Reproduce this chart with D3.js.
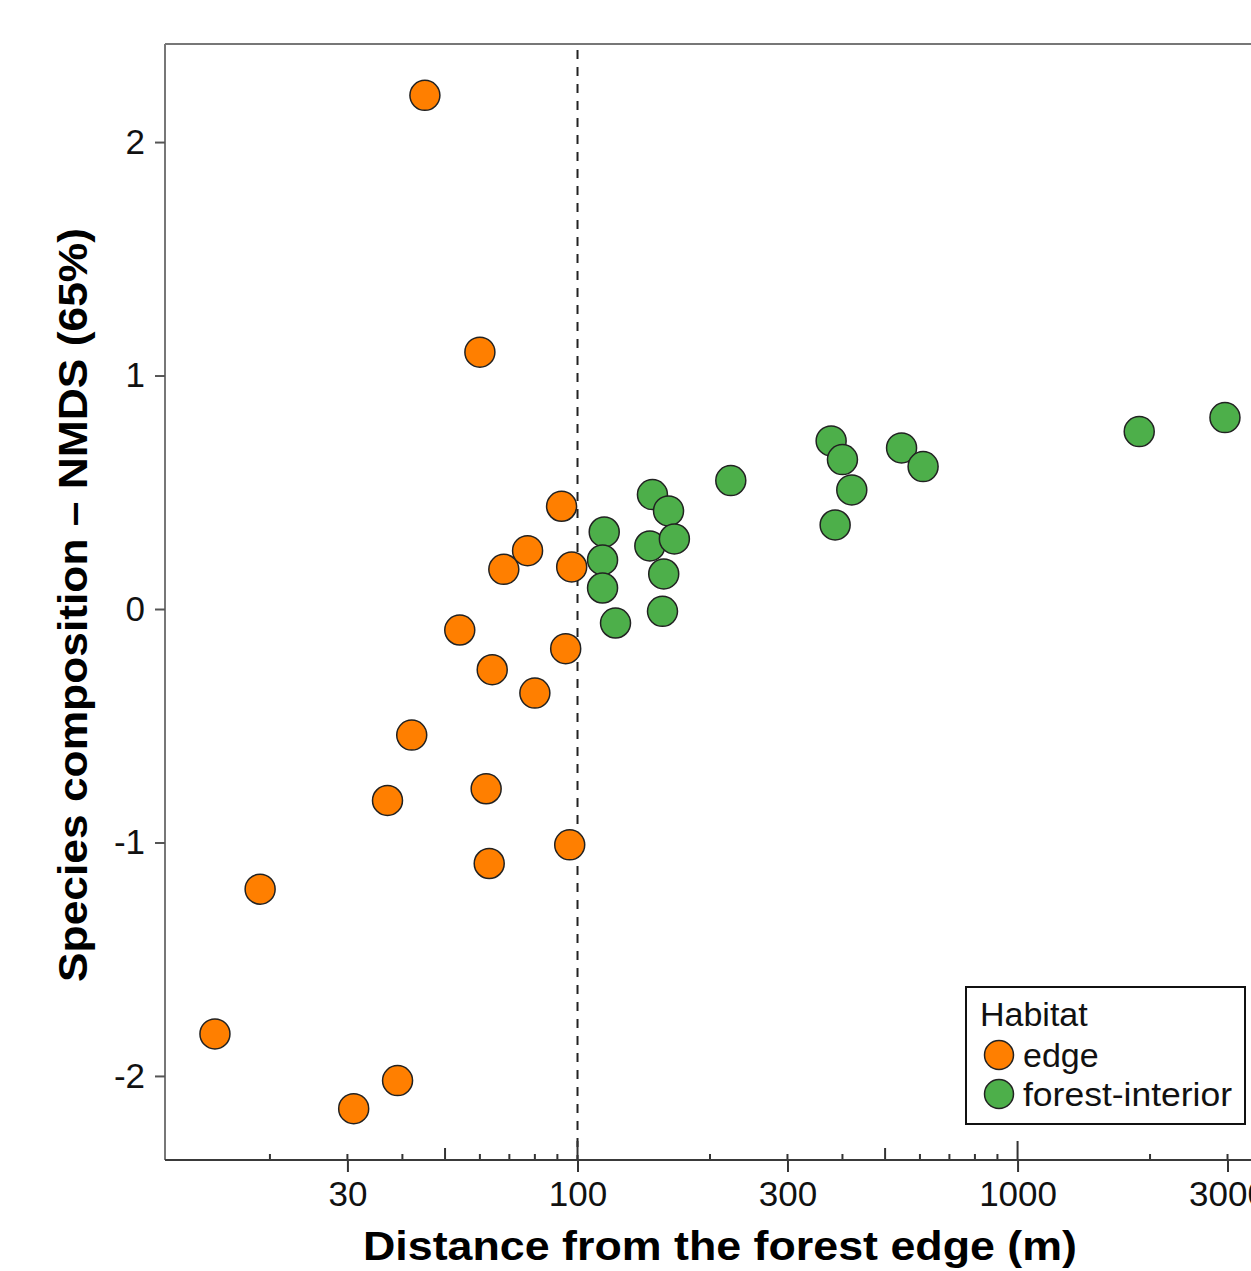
<!DOCTYPE html>
<html>
<head>
<meta charset="utf-8">
<script src="https://cdn.jsdelivr.net/npm/d3@7"></script>
<style>
  body { margin: 0; background: #fff; }
  svg { display: block; font-family: "Liberation Sans", Arial, sans-serif; }
</style>
</head>
<body>
<div class="chart"></div>
<script>
// distance from edge (m) and NMDS score, per habitat
var edgeDistance = [45, 60, 92, 77, 68, 97, 54, 94, 64, 80, 42, 37, 62, 96, 63, 19, 15, 31, 39];
var edgeNMDS = [2.20, 1.10, 0.44, 0.25, 0.17, 0.18, -0.09, -0.17, -0.26, -0.36, -0.54, -0.82, -0.77, -1.01, -1.09, -1.20, -1.82, -2.14, -2.02];
var interiorDistance = [115, 114, 114, 122, 148, 161, 146, 166, 157, 156, 223, 377, 400, 420, 385, 545, 610, 1890, 2960];
var interiorNMDS = [0.33, 0.21, 0.09, -0.06, 0.49, 0.42, 0.27, 0.30, 0.15, -0.01, 0.55, 0.72, 0.64, 0.51, 0.36, 0.69, 0.61, 0.76, 0.82];
var habitats = ["edge", "forest-interior"];
var habitatColors = ["#ff7f00", "#4daf4a"];
var xTickLabels = [30, 100, 300, 1000, 3000];
var yTicks = [-2, -1, 0, 1, 2];
var edgeThreshold = 100;

var width = 1251, height = 1271;
var plot = {left: 165, right: 1290, top: 44, bottom: 1160};

var svg = d3.select(".chart").append("svg")
  .attr("width", width)
  .attr("height", height);

var x = d3.scaleLog().domain([11.55, 4160]).range([plot.left, plot.right]);
var y = d3.scaleLinear().domain([-2.36, 2.42]).range([plot.bottom, plot.top]);

var points = [];
edgeDistance.forEach(function(d, i) { points.push({x: d, y: edgeNMDS[i], h: 0}); });
interiorDistance.forEach(function(d, i) { points.push({x: d, y: interiorNMDS[i], h: 1}); });

// frame (top + left in grey)
svg.append("line")
  .attr("x1", plot.left).attr("x2", plot.right)
  .attr("y1", plot.top).attr("y2", plot.top)
  .attr("stroke", "#777").attr("stroke-width", 2);
svg.append("line")
  .attr("x1", plot.left).attr("x2", plot.left)
  .attr("y1", plot.top).attr("y2", plot.bottom)
  .attr("stroke", "#777").attr("stroke-width", 2);

// dashed line at 100 m
svg.append("line")
  .attr("x1", x(edgeThreshold)).attr("x2", x(edgeThreshold))
  .attr("y1", plot.top + 6).attr("y2", plot.bottom)
  .attr("stroke", "#222").attr("stroke-width", 2)
  .attr("stroke-dasharray", "9 8");

// X axis labels + crossing ticks
var xAxis = d3.axisBottom(x)
  .tickValues(xTickLabels)
  .tickFormat(d3.format("d"))
  .tickSizeInner(12)
  .tickSizeOuter(0)
  .tickPadding(9);

var gx = svg.append("g")
  .attr("transform", "translate(0," + plot.bottom + ")")
  .call(xAxis);
gx.select(".domain").remove();
gx.selectAll(".tick line").attr("stroke", "#333").attr("stroke-width", 2);
gx.selectAll("text")
  .attr("fill", "#111")
  .style("font-size", "35px")
  .style("font-family", "Liberation Sans, Arial, sans-serif");

// upward ticks on the log axis
gx.selectAll(".up-tick")
  .data(x.ticks())
  .enter().append("line")
  .attr("class", "up-tick")
  .attr("x1", d => x(d)).attr("x2", d => x(d))
  .attr("y1", 0)
  .attr("y2", function(d) {
    var lead = Math.round(d / Math.pow(10, Math.floor(Math.log10(d) + 1e-9)));
    if (lead === 1) return -19;
    if (lead === 5) return -12;
    return -6;
  })
  .attr("stroke", "#333").attr("stroke-width", 2);

svg.append("line")
  .attr("x1", plot.left).attr("x2", plot.right)
  .attr("y1", plot.bottom).attr("y2", plot.bottom)
  .attr("stroke", "#3a3a3a").attr("stroke-width", 2);

// Y axis
var yAxis = d3.axisLeft(y)
  .tickValues(yTicks)
  .tickFormat(d => String(d))
  .tickSizeInner(10)
  .tickSizeOuter(0)
  .tickPadding(10);

var gy = svg.append("g")
  .attr("transform", "translate(" + plot.left + ",0)")
  .call(yAxis);
gy.select(".domain").remove();
gy.selectAll(".tick line").attr("stroke", "#555").attr("stroke-width", 2);
gy.selectAll("text")
  .attr("fill", "#111")
  .style("font-size", "35px")
  .style("font-family", "Liberation Sans, Arial, sans-serif");

// points
svg.append("g")
  .selectAll("circle")
  .data(points)
  .enter().append("circle")
  .attr("cx", d => x(d.x))
  .attr("cy", d => y(d.y))
  .attr("r", 15)
  .attr("fill", d => habitatColors[d.h])
  .attr("stroke", "#222")
  .attr("stroke-width", 1.5);

// axis titles
svg.append("text")
  .attr("x", 720).attr("y", 1260)
  .attr("text-anchor", "middle")
  .attr("textLength", 714)
  .attr("lengthAdjust", "spacingAndGlyphs")
  .style("font-size", "41px")
  .style("font-weight", "bold")
  .attr("fill", "#000")
  .text("Distance from the forest edge (m)");

svg.append("text")
  .attr("transform", "translate(87,605) rotate(-90)")
  .attr("text-anchor", "middle")
  .attr("textLength", 754)
  .attr("lengthAdjust", "spacingAndGlyphs")
  .style("font-size", "41px")
  .style("font-weight", "bold")
  .attr("fill", "#000")
  .text("Species composition \u2013 NMDS (65%)");

// legend
var legend = svg.append("g").attr("transform", "translate(966,987)");
legend.append("rect")
  .attr("width", 279).attr("height", 137)
  .attr("fill", "#fff")
  .attr("stroke", "#111").attr("stroke-width", 2);
legend.append("text")
  .attr("x", 14).attr("y", 39)
  .style("font-size", "34px")
  .attr("fill", "#111")
  .text("Habitat");

var items = legend.selectAll(".item")
  .data(habitats)
  .enter().append("g")
  .attr("class", "item")
  .attr("transform", (d, i) => "translate(0," + (68 + i * 39) + ")");
items.append("circle")
  .attr("cx", 33).attr("cy", 0).attr("r", 14.5)
  .attr("fill", (d, i) => habitatColors[i])
  .attr("stroke", "#222").attr("stroke-width", 1.5);
items.append("text")
  .attr("x", 57).attr("y", 12)
  .attr("textLength", (d, i) => i === 1 ? 209 : null)
  .attr("lengthAdjust", "spacingAndGlyphs")
  .style("font-size", "34px")
  .attr("fill", "#111")
  .text(d => d);
</script>
</body>
</html>
